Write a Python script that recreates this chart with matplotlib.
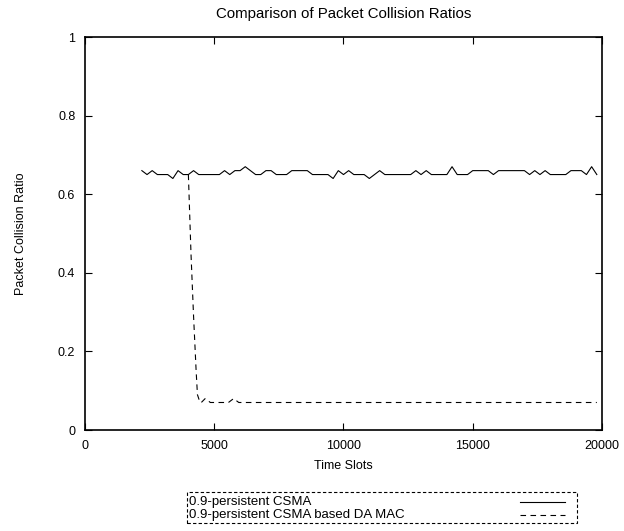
import matplotlib
matplotlib.use('Agg')
import matplotlib.pyplot as plt
from matplotlib.lines import Line2D
from matplotlib.patches import Rectangle

plt.rcParams.update({
    'font.family': ['Liberation Sans', 'DejaVu Sans'],
    'font.size': 9,
    'xtick.direction': 'in',
    'ytick.direction': 'in',
    'xtick.top': True,
    'ytick.right': True,
    'xtick.major.size': 5,
    'ytick.major.size': 5,
})

# data
csma_start = 2200
csma_step = 200
csma_ratio = [
    0.66, 0.65, 0.66, 0.65, 0.65, 0.65, 0.64, 0.66, 0.65, 0.65,
    0.66, 0.65, 0.65, 0.65, 0.65, 0.65, 0.66, 0.65, 0.66, 0.66,
    0.67, 0.66, 0.65, 0.65, 0.66, 0.66, 0.65, 0.65, 0.65, 0.66,
    0.66, 0.66, 0.66, 0.65, 0.65, 0.65, 0.65, 0.64, 0.66, 0.65,
    0.66, 0.65, 0.65, 0.65, 0.64, 0.65, 0.66, 0.65, 0.65, 0.65,
    0.65, 0.65, 0.65, 0.66, 0.65, 0.66, 0.65, 0.65, 0.65, 0.65,
    0.67, 0.65, 0.65, 0.65, 0.66, 0.66, 0.66, 0.66, 0.65, 0.66,
    0.66, 0.66, 0.66, 0.66, 0.66, 0.65, 0.66, 0.65, 0.66, 0.65,
    0.65, 0.65, 0.65, 0.66, 0.66, 0.66, 0.65, 0.67, 0.65,
]
csma_slots = [csma_start + csma_step * i for i in range(len(csma_ratio))]

damac_slots = [4000, 4100, 4200, 4300, 4350, 4450, 4500, 4650, 4850,
               5550, 5750, 5950, 19800]
damac_ratio = [0.65, 0.45, 0.29, 0.15, 0.09, 0.07, 0.07, 0.08, 0.07,
               0.07, 0.08, 0.07, 0.07]

labels = ['0.9-persistent CSMA', '0.9-persistent CSMA based DA MAC']
xticks = [0, 5000, 10000, 15000, 20000]
yticks = [0, 0.2, 0.4, 0.6, 0.8, 1]
ytick_labels = ['0', '0.2', '0.4', '0.6', '0.8', '1']

fig = plt.figure(figsize=(6.24, 5.31), dpi=100)
ax = fig.add_axes([0.1362, 0.1902, 0.8285, 0.7401])

ax.plot(csma_slots, csma_ratio, color='black', lw=0.8)
ax.plot(damac_slots, damac_ratio, color='black', lw=0.8, dashes=(5, 4))

ax.set_xlim(0, 20000)
ax.set_ylim(0, 1)
ax.set_xticks(xticks)
ax.set_yticks(yticks)
ax.set_yticklabels(ytick_labels)
ax.tick_params(axis='x', pad=7)
ax.tick_params(axis='y', pad=7)
for s in ax.spines.values():
    s.set_linewidth(1.2)

ax.set_title('Comparison of Packet Collision Ratios', pad=14)
ax.set_xlabel('Time Slots', labelpad=6)
ax.set_ylabel('Packet Collision Ratio', labelpad=22)

# gnuplot-like key below the plot
fig.patches.append(Rectangle((0.300, 0.016), 0.625, 0.057,
                             transform=fig.transFigure, fill=False,
                             edgecolor='black', lw=0.8, ls=(0, (3, 2))))
key_y = [0.0546, 0.0300]
key_style = [dict(), dict(dashes=(5, 4))]
for lab, yy, st in zip(labels, key_y, key_style):
    fig.text(0.303, yy, lab, ha='left', va='center', fontsize=9.5)
    fig.lines.append(Line2D([0.833, 0.905], [yy, yy], transform=fig.transFigure,
                            color='black', lw=0.8, **st))

fig.savefig('out.png', dpi=100)
